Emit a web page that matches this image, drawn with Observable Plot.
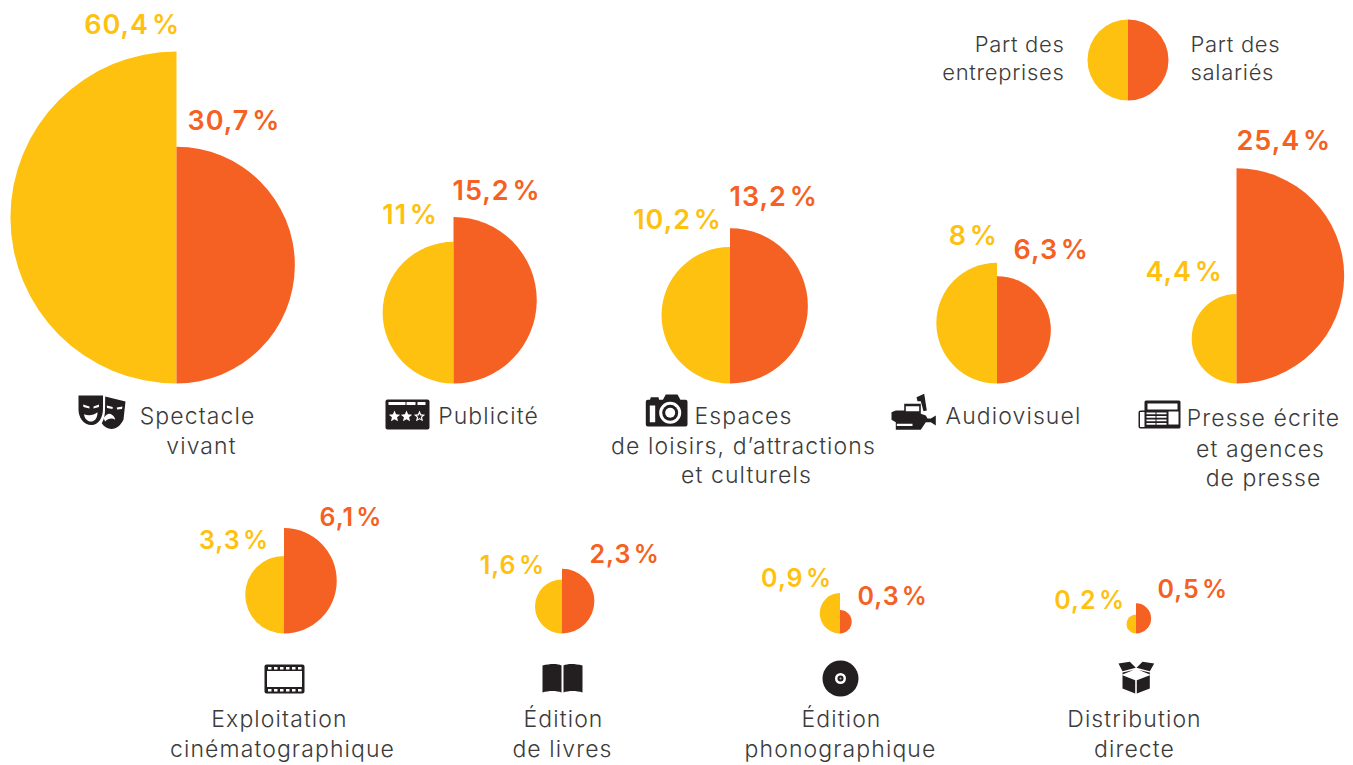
<!DOCTYPE html>
<html lang="fr">
<head>
<meta charset="utf-8">
<title>Part des entreprises et des salariés</title>
<script src="https://cdn.jsdelivr.net/npm/d3@7"></script>
<script src="https://cdn.jsdelivr.net/npm/@observablehq/plot@0.6"></script>
<style>
  html, body { margin: 0; padding: 0; background: #fff; }
  svg { display: block; }
  .pct text { letter-spacing: 1px; word-spacing: -5px; }
  .cat text { letter-spacing: 1.1px; }
  .key text { letter-spacing: .7px; }
</style>
</head>
<body>
<div id="chart"></div>
<script>
// ---- values ----
const sectors = ["Spectacle vivant", "Publicité", "Espaces de loisirs, d’attractions et culturels", "Audiovisuel",
  "Presse écrite et agences de presse", "Exploitation cinématographique", "Édition de livres",
  "Édition phonographique", "Distribution directe"];
const partEntreprises = [60.4, 11, 10.2, 8, 4.4, 3.3, 1.6, 0.9, 0.2];
const partSalaries = [30.7, 15.2, 13.2, 6.3, 25.4, 6.1, 2.3, 0.3, 0.5];

// ---- layout, separate from the values ----
const centerX = [176, 453, 729.5, 996.5, 1236, 283.5, 561.5, 839.5, 1135.5];
const baseY = [383, 383, 383, 383, 383, 633, 633, 633, 633];
const entLabelX = [179.5, 437.5, 721.5, 997.5, 1222.5, 268.5, 544.5, 831.5, 1124.5];
const entLabelY = [25, 215, 220, 236, 272, 540, 565, 578, 600];
const salLabelX = [187, 452, 729, 1013, 1236, 319, 589, 857, 1157];
const salLabelY = [121, 191, 197, 250, 141, 517, 554, 596, 589];
const labelSize = [27, 27, 27, 27, 27, 25, 25, 25, 25];

const catLines = ["Spectacle", "vivant", "Publicité", "Espaces", "de loisirs, d’attractions", "et culturels",
  "Audiovisuel", "Presse écrite", "et agences", "de presse", "Exploitation", "cinématographique",
  "Édition", "de livres", "Édition", "phonographique", "Distribution", "directe"];
const catLineX = [197, 201, 488, 743, 743, 746, 1013, 1263, 1260, 1263, 279, 282, 563, 562, 841, 840, 1134, 1134];
const catLineY = [416, 446, 416, 416, 446, 475, 416, 418, 449, 478, 719, 749, 719, 749, 719, 749, 719, 749];

const legendLines = ["Part des", "entreprises", "Part des", "salariés"];
const legendLineY = [44, 72, 44, 72];

const YELLOW = "#fec10f", ORANGE = "#f56023", INK = "#231f20", TEXT = "#3b3b3b";
const FONT = "Inter, 'Open Sans', sans-serif";

// half discs sitting on their baseline, sized by the r scale
const leftHalf = {draw(c, size) { const r = Math.sqrt(size / Math.PI); c.moveTo(0, 0); c.arc(0, -r, r, Math.PI / 2, 3 * Math.PI / 2); c.closePath(); }};
const rightHalf = {draw(c, size) { const r = Math.sqrt(size / Math.PI); c.moveTo(0, 0); c.arc(0, -r, r, -Math.PI / 2, Math.PI / 2); c.closePath(); }};

// icon glyph helpers
const poly = (c, pts) => { pts.forEach(([x, y], i) => i ? c.lineTo(x, y) : c.moveTo(x, y)); c.closePath(); };
const disc = (c, x, y, r) => { c.moveTo(x + r, y); c.arc(x, y, r, 0, 2 * Math.PI); c.closePath(); };
const box = (c, x, y, w, h) => poly(c, [[x, y], [x + w, y], [x + w, y + h], [x, y + h]]);
const rbox = (c, x, y, w, h, r) => { c.moveTo(x + r, y); c.lineTo(x + w - r, y); c.arc(x + w - r, y + r, r, -Math.PI / 2, 0); c.lineTo(x + w, y + h - r); c.arc(x + w - r, y + h - r, r, 0, Math.PI / 2); c.lineTo(x + r, y + h); c.arc(x + r, y + h - r, r, Math.PI / 2, Math.PI); c.lineTo(x, y + r); c.arc(x + r, y + r, r, Math.PI, 3 * Math.PI / 2); c.closePath(); };
const star = (c, x, y, R) => { const p = []; for (let i = 0; i < 10; i++) { const a = -Math.PI / 2 + i * Math.PI / 5, q = i % 2 ? R * .45 : R; p.push([x + q * Math.cos(a), y + q * Math.sin(a)]); } poly(c, p); };

const icons = [
  {x: 101, y: 412, layers: [
    [INK, c => {
      c.moveTo(-23, -17); c.lineTo(1.5, -17); c.lineTo(1.5, -4); c.bezierCurveTo(1.5, 5, -3, 12.5, -10, 12.5); c.bezierCurveTo(-18, 12.5, -23, 5, -23, -3); c.closePath();
      c.moveTo(3.7, -16); c.lineTo(24, -11); c.lineTo(22, 7); c.bezierCurveTo(19, 13, 15, 16.5, 10, 16.5); c.bezierCurveTo(6, 16, 2, 14, .3, 10.7); c.bezierCurveTo(3, 6, 3.5, 1, 3.5, -3); c.closePath();
    }],
    ["#fff", c => {
      poly(c, [[-18.5, -8], [-12, -6], [-12, -4], [-18, -5.5]]); poly(c, [[-2.5, -8], [-8, -6], [-8, -4], [-2.5, -5.5]]);
      c.moveTo(-17.5, 1.7); c.bezierCurveTo(-13, 3.5, -8, 3, -4, -.3); c.bezierCurveTo(-4, 6, -7, 9, -10.7, 9); c.bezierCurveTo(-14, 9, -17, 6, -17.5, 1.7); c.closePath();
      poly(c, [[5.3, -7], [11.3, -5.5], [11, -3.5], [5.5, -4.5]]); poly(c, [[21, -6], [15.3, -5], [15.5, -3], [20.5, -3.5]]);
      c.moveTo(2, 5.7); c.bezierCurveTo(4, 2, 8, 0, 10, 2); c.bezierCurveTo(12, 3, 13.5, 5, 13.7, 7.3); c.bezierCurveTo(11, 5.5, 7, 5.5, 3.7, 9); c.closePath();
    }]
  ]},
  {x: 407, y: 414, layers: [
    [INK, c => rbox(c, -22, -15, 44, 30, 2)],
    ["#fff", c => {
      box(c, -19, -12.5, 17, 3); box(c, -1, -12.5, 9, 3); box(c, 10, -12.5, 8, 3);
      star(c, -13, 2, 6); star(c, -1, 2, 6); star(c, 12, 2, 6);
    }],
    [INK, c => star(c, 12, 2.2, 3)]
  ]},
  {x: 666, y: 410, layers: [
    [INK, c => {
      rbox(c, -20.7, -10.7, 41.7, 26.7, 2);
      poly(c, [[-4, -10], [-.7, -16], [11, -16], [14.3, -10]]);
      poly(c, [[-16.7, -10], [-15.7, -13.3], [-8, -13.3], [-7.3, -10]]);
    }],
    ["#fff", c => { box(c, -16.7, -5, 5.4, 16.7); disc(c, 3.7, 2.3, 11); }],
    [INK, c => disc(c, 3.7, 2.3, 8)],
    ["#fff", c => disc(c, 3.7, 2.3, 5)]
  ]},
  {x: 913, y: 412, layers: [
    [INK, c => {
      poly(c, [[-22, -.3], [-17.7, -2], [-9.3, -2], [-9.3, -8.7], [7.3, -8.7], [7.3, 1.3], [12.3, 3], [14, 6], [17.3, 6], [22.3, 3], [22.3, 13], [17.3, 9.7], [12.3, 9.7], [7.3, 17.3], [-17.7, 17.3], [-17.7, 9.7], [-22, 7.3]]);
      poly(c, [[3, -15.3], [10.7, -18.7], [13.3, -2], [10, -1.3], [7.3, -11.3], [4, -11.3]]);
    }],
    ["#fff", c => { box(c, -7.7, -6.3, 13.4, 5); box(c, -16.7, 11.3, 15.7, 2.2); }]
  ]},
  {x: 1159, y: 415, layers: [
    [INK, c => { rbox(c, -21, -5, 9, 18, 2); rbox(c, -15, -15, 36, 28, 1.5); }],
    ["#fff", c => {
      box(c, -19.5, -3.5, 4.5, 15);
      box(c, -12, -12, 30, 6); box(c, 9, -4, 10, 13);
      for (const y of [-3, .5, 4, 7.5]) { box(c, -13, y, 9, 1.7); box(c, -3, y, 10, 1.7); }
    }]
  ]},
  {x: 284, y: 678.5, layers: [
    [INK, c => rbox(c, -20, -14.5, 40, 29, 2)],
    ["#fff", c => {
      box(c, -17.5, -8, 35, 16);
      for (const i of [0, 1, 2, 3, 4, 5]) { box(c, -16.5 + i * 6, -12, 3.5, 2.5); box(c, -16.5 + i * 6, 10, 3.5, 2.5); }
    }]
  ]},
  {x: 562, y: 678, layers: [
    [INK, c => {
      c.moveTo(-20, -13); c.bezierCurveTo(-12, -15, -5, -15, -1, -13); c.lineTo(-1, 14); c.bezierCurveTo(-6, 12, -14, 12, -20, 14); c.closePath();
      c.moveTo(20, -13); c.bezierCurveTo(12, -15, 5, -15, 1, -13); c.lineTo(1, 14); c.bezierCurveTo(6, 12, 14, 12, 20, 14); c.closePath();
    }]
  ]},
  {x: 840, y: 678, layers: [
    [INK, c => disc(c, 0, 0, 18)],
    ["#fff", c => disc(c, 0, 0, 5.5)],
    [INK, c => disc(c, 0, 0, 3)],
    ["#bbb", c => disc(c, 0, 0, 1)]
  ]},
  {x: 1136, y: 678, layers: [
    [INK, c => {
      poly(c, [[-14, -3.3], [-1.3, 1.7], [-1.3, 15], [-14, 10]]);
      poly(c, [[.3, 1.7], [13.3, -3.3], [13.3, 10], [.3, 15]]);
      poly(c, [[-18, -15], [-6.7, -16.7], [-.7, -10.7], [-14, -7.3]]);
      poly(c, [[17.7, -15], [6, -16.7], [0, -10.7], [13.3, -7.3]]);
      poly(c, [[-14, -6], [-3, -8.5], [-14, -4]]);
      poly(c, [[13.3, -6], [2.5, -8.5], [13.3, -4]]);
    }]
  ]}
];

const rows = sectors.map((sector, i) => ({
  sector, ent: partEntreprises[i], sal: partSalaries[i], x: centerX[i], y: baseY[i],
  entX: entLabelX[i], entY: entLabelY[i], salX: salLabelX[i], salY: salLabelY[i], size: labelSize[i]
}));
const pct = v => String(v).replace(".", ",") + " %";
const lineRows = catLines.map((text, i) => ({text, x: catLineX[i], y: catLineY[i]}));

const iconMarks = icons.flatMap(ic => ic.layers.map(([fill, draw]) =>
  Plot.dot([ic], {x: "x", y: "y", r: 1, fill, stroke: "none", symbol: {draw}})));

const pctMark = (rowsIn, size) => [
  Plot.text(rowsIn, {x: "entX", y: "entY", text: d => pct(d.ent), fill: YELLOW, textAnchor: "end", fontSize: size, fontFamily: FONT, fontWeight: 600, className: "pct"}),
  Plot.text(rowsIn, {x: "salX", y: "salY", text: d => pct(d.sal), fill: ORANGE, textAnchor: "start", fontSize: size, fontFamily: FONT, fontWeight: 600, className: "pct"})
];

const chart = Plot.plot({
  width: 1353, height: 765,
  margin: 0,
  style: {background: "#fff", fontFamily: FONT},
  x: {type: "identity", axis: null},
  y: {type: "identity", axis: null},
  r: {type: "sqrt", domain: [0, 60.4], range: [0, 166]},
  marks: [
    Plot.dot(rows, {x: "x", y: "y", r: "ent", fill: YELLOW, stroke: "none", symbol: leftHalf, title: "sector"}),
    Plot.dot(rows, {x: "x", y: "y", r: "sal", fill: ORANGE, stroke: "none", symbol: rightHalf, title: "sector"}),
    ...pctMark(rows.filter(d => d.size === 27), 27),
    ...pctMark(rows.filter(d => d.size === 25), 25),
    Plot.text(lineRows, {x: "x", y: "y", text: "text", fill: TEXT, fontSize: 23, fontFamily: FONT, fontWeight: 300, className: "cat"}),
    // key
    Plot.dot([{x: 1127.5, y: 100}], {x: "x", y: "y", r: 40.5, fill: YELLOW, stroke: "none", symbol: leftHalf}),
    Plot.dot([{x: 1127.5, y: 100}], {x: "x", y: "y", r: 40.5, fill: ORANGE, stroke: "none", symbol: rightHalf}),
    Plot.text(legendLines.slice(0, 2), {x: () => 1064, y: (d, i) => legendLineY[i], text: d => d, textAnchor: "end", fill: TEXT, fontSize: 22, fontFamily: FONT, fontWeight: 300, className: "key"}),
    Plot.text(legendLines.slice(2), {x: () => 1190, y: (d, i) => legendLineY[i + 2], text: d => d, textAnchor: "start", fill: TEXT, fontSize: 22, fontFamily: FONT, fontWeight: 300, className: "key"}),
    ...iconMarks
  ]
});
document.getElementById("chart").append(chart);
</script>
</body>
</html>
